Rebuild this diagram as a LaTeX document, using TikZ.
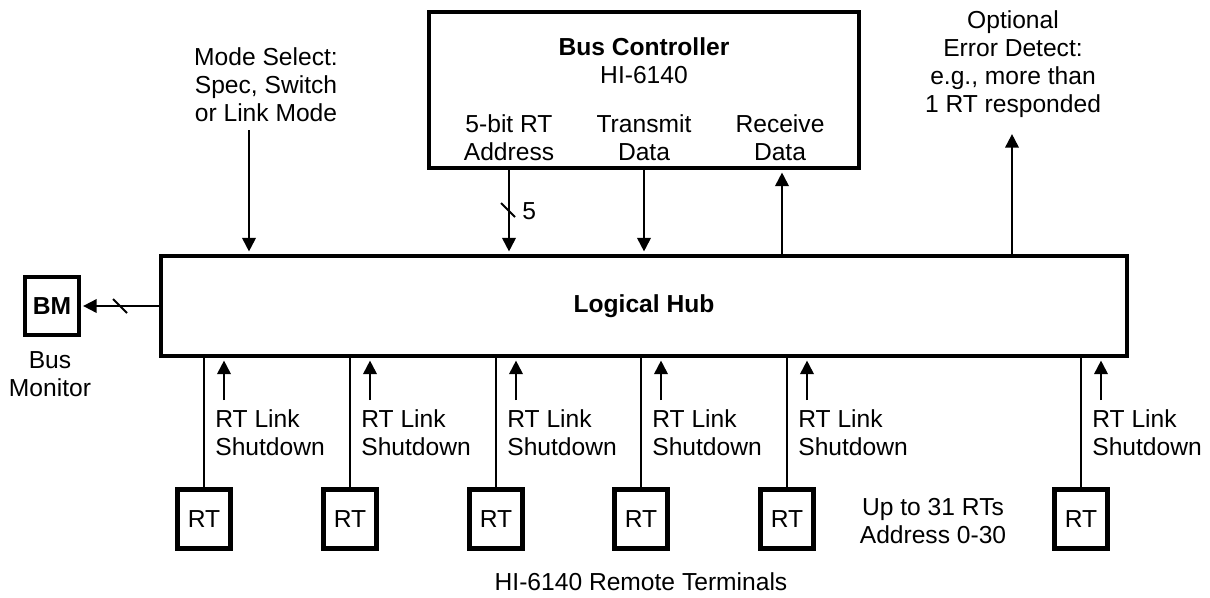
\documentclass[tikz,border=0pt]{standalone}
\usepackage{fontspec}
\setmainfont{Liberation Sans}
\usetikzlibrary{arrows.meta}

\tikzset{
    blk/.style={rectangle, draw, line width=2.8pt, inner sep=0pt},
    rtbox/.style={blk, line width=2.6pt, minimum width=1.06cm, minimum height=1.18cm},
    arr/.style={line width=1.1pt, shorten >=1.2pt, -{Triangle[length=0.27cm,width=0.27cm]}},
    lnk/.style={line width=1.6pt},
    txt/.style={align=center, inner sep=0pt},
}

\begin{document}
\begin{tikzpicture}[x=0.2mm, y=-0.2mm, font=\fontsize{14pt}{15.9pt}\selectfont]
    \useasboundingbox (0,0) rectangle (1210,597);

    % bus controller
    \node[blk, minimum width=8.6cm, minimum height=3.12cm] (bc) at (644,90) {};
    \node[txt] (bctitle) at (644,61) {\textbf{Bus Controller}\\HI-6140};
    \node[txt] (addr) at (509,138) {5-bit RT\\Address};
    \node[txt] (tx) at (644,138) {Transmit\\Data};
    \node[txt] (rx) at (780,138) {Receive\\Data};

    % hub and monitor
    \node[blk, minimum width=19.32cm, minimum height=2cm] (hub) at (644,306) {\textbf{Logical Hub}};
    \node[blk, line width=2.3pt, minimum width=1.08cm, minimum height=1.16cm] (bm) at (52,306) {\textbf{BM}};
    \node[txt] (bmlbl) at (50,374) {Bus\\Monitor};

    \node[txt] (mode) at (266,85) {Mode Select:\\Spec, Switch\\or Link Mode};
    \node[txt] (err) at (1013,64) {Optional\\Error Detect:\\e.g., more than\\1 RT responded};

    \coordinate (ms) at (249,130);
    \coordinate (ed) at (1012,132);
    \coordinate (rxc) at (782,0);

    \draw[arr] (ms) -- (ms |- hub.north);
    \draw[arr] (addr |- bc.south) -- (addr |- hub.north);
    \draw[arr] (tx |- bc.south) -- (tx |- hub.north);
    \draw[arr] (rxc |- hub.north) -- (rxc |- bc.south);
    \draw[arr] (ed |- hub.north) -- (ed);
    \draw[arr] (hub.west) -- (bm.east);

    % bus width marks
    \coordinate (s1) at (508,210);
    \draw[line width=1.1pt] ([shift={(-7,-7)}]s1) -- ([shift={(7,7)}]s1);
    \node[inner sep=0pt, anchor=west] (five) at (522,211) {5};
    \coordinate (s2) at (120,306);
    \draw[line width=1.1pt] ([shift={(-7,-7)}]s2) -- ([shift={(7,7)}]s2);

    % remote terminals
    \foreach \x [count=\i] in {204,350,496,641,787,1081}{
        \node[rtbox] (rt\i) at (\x,519) {RT};
        \draw[lnk] (rt\i.north) -- (rt\i |- hub.south);
        \coordinate (sd\i) at (\x+20,400);
        \draw[arr] (sd\i) -- (sd\i |- hub.south);
        \node[txt, align=left, anchor=west] (sdl\i) at (\x+11,433) {RT Link\\Shutdown};
    }

    \node[txt] (upto) at (933,521) {Up to 31 RTs\\Address 0-30};
    \node[txt] (rtcap) at (641,582) {HI-6140 Remote Terminals};
\end{tikzpicture}
\end{document}
